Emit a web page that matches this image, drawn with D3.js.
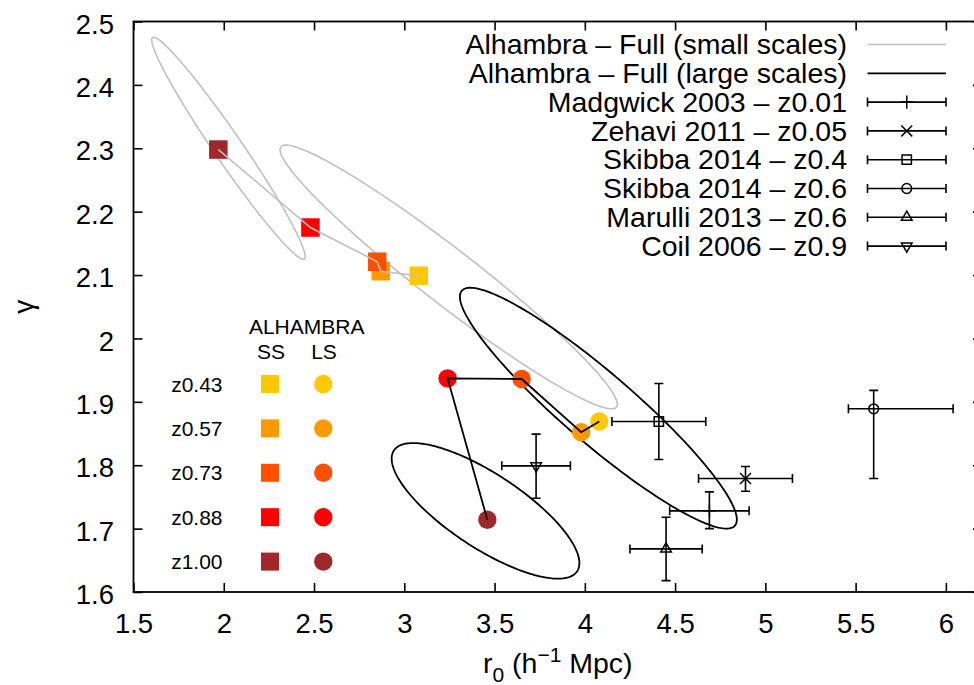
<!DOCTYPE html>
<html>
<head>
<meta charset="utf-8">
<script src="https://cdn.jsdelivr.net/npm/d3@7"></script>
<style>
  body { margin: 0; background: #fff; }
  svg text { font-family: "Liberation Sans", Arial, Helvetica, sans-serif; fill: #000; }
</style>
</head>
<body>
<svg id="chart" width="974" height="685"></svg>
<script>
// ALHAMBRA redshift bins
const zLabels = ["z0.43", "z0.57", "z0.73", "z0.88", "z1.00"];
// small scales (squares)
const ssR0 = [3.08, 2.87, 2.85, 2.48, 1.97];
const ssGamma = [2.099, 2.106, 2.121, 2.175, 2.298];
// large scales (circles)
const lsR0 = [4.08, 3.98, 3.65, 3.24, 3.46];
const lsGamma = [1.869, 1.852, 1.936, 1.937, 1.714];

// confidence contours: centre, half extent in r0 and gamma, correlation
const ssEllR0 = [2.026, 3.246];
const ssEllGamma = [2.300, 2.097];
const ssEllDR0 = [0.425, 0.934];
const ssEllDGamma = [0.175, 0.208];
const ssEllRho = [-0.975, -0.965];
const lsEllR0 = [4.075, 3.450];
const lsEllGamma = [1.890, 1.728];
const lsEllDR0 = [0.767, 0.520];
const lsEllDGamma = [0.190, 0.107];
const lsEllRho = [-0.925, -0.77];

// literature measurements
const refNames = ["Madgwick 2003 \u2013 z0.01", "Zehavi 2011 \u2013 z0.05", "Skibba 2014 \u2013 z0.4",
  "Skibba 2014 \u2013 z0.6", "Marulli 2013 \u2013 z0.6", "Coil 2006 \u2013 z0.9"];
const refR0 = [4.69, 4.89, 4.41, 5.60, 4.45, 3.73];
const refR0Lo = [4.47, 4.63, 4.15, 5.46, 4.25, 3.54];
const refR0Hi = [4.91, 5.15, 4.67, 6.04, 4.65, 3.92];
const refGamma = [1.728, 1.779, 1.869, 1.889, 1.668, 1.799];
const refGammaLo = [1.700, 1.759, 1.809, 1.779, 1.618, 1.748];
const refGammaHi = [1.758, 1.798, 1.929, 1.918, 1.718, 1.849];

const xTicks = [1.5, 2, 2.5, 3, 3.5, 4, 4.5, 5, 5.5, 6];
const yTicks = [1.6, 1.7, 1.8, 1.9, 2.0, 2.1, 2.2, 2.3, 2.4, 2.5];

const svg = d3.select("#chart");
const margin = { top: 21.5, left: 133.5 },
  plotW = 848.5,
  plotH = 570.5;

const x = d3.scaleLinear().domain([1.5, 6.2]).range([margin.left, margin.left + plotW]);
const y = d3.scaleLinear().domain([1.6, 2.5]).range([margin.top + plotH, margin.top]);
const zColor = d3.scaleOrdinal().domain(zLabels)
  .range(["#ffc800", "#ff9900", "#ff5000", "#ff0000", "#a0282a"]);

const tickFmt = d3.format("~g");
const TICK = 9;

// axes (ticks pointing inward)
function styleAxis(g) {
  g.select(".domain").remove();
  g.selectAll(".tick line").attr("stroke", "#000").attr("stroke-width", 1.6);
  g.selectAll(".tick text").attr("font-size", 27.5).attr("font-family", null);
}
svg.append("g").attr("transform", `translate(0,${y(1.6)})`)
  .call(d3.axisBottom(x).tickValues(xTicks).tickFormat(tickFmt).tickSize(-TICK).tickPadding(21))
  .call(styleAxis);
svg.append("g").attr("transform", `translate(0,${y(2.5)})`)
  .call(d3.axisTop(x).tickValues(xTicks).tickFormat("").tickSize(-TICK))
  .call(styleAxis);
svg.append("g").attr("transform", `translate(${x(1.5)},0)`)
  .call(d3.axisLeft(y).tickValues(yTicks).tickFormat(tickFmt).tickSize(-TICK).tickPadding(19.5))
  .call(styleAxis)
  .selectAll(".tick text").attr("dy", "0.42em");
svg.append("g").attr("transform", `translate(${x(6.2)},0)`)
  .call(d3.axisRight(y).tickValues(yTicks).tickFormat("").tickSize(-TICK))
  .call(styleAxis);

// frame
svg.append("rect")
  .attr("x", x(1.5)).attr("y", y(2.5))
  .attr("width", x(6.2) - x(1.5)).attr("height", y(1.6) - y(2.5))
  .attr("fill", "none").attr("stroke", "#000").attr("stroke-width", 1.8);

// axis titles
const xl = svg.append("text").attr("x", (x(1.5) + x(6.2)) / 2).attr("y", 673)
  .attr("text-anchor", "middle").attr("font-size", 28.5);
xl.append("tspan").text("r");
xl.append("tspan").attr("font-size", 21).attr("dy", 9).text("0");
xl.append("tspan").attr("dy", -9).text(" (h");
xl.append("tspan").attr("font-size", 21).attr("dy", -11).text("\u22121");
xl.append("tspan").attr("dy", 11).text(" Mpc)");

svg.append("text")
  .attr("transform", `translate(25,${(y(1.6) + y(2.5)) / 2}) rotate(-90)`)
  .attr("text-anchor", "middle").attr("dy", "0.3em")
  .attr("font-size", 28).text("\u03b3");

// contours
function ellipsePts(cx, cy, ax, by, rho) {
  const s = Math.sqrt(1 - rho * rho);
  return d3.range(0, 360, 1.5).map((deg) => {
    const t = (deg * Math.PI) / 180;
    return [cx + ax * Math.cos(t), cy + by * (rho * Math.cos(t) + s * Math.sin(t))];
  });
}
const ellLine = d3.line().x((d) => x(d[0])).y((d) => y(d[1])).curve(d3.curveLinearClosed);

const plot = svg.append("g");
ssEllR0.forEach((c, i) => {
  plot.append("path")
    .attr("d", ellLine(ellipsePts(c, ssEllGamma[i], ssEllDR0[i], ssEllDGamma[i], ssEllRho[i])))
    .attr("fill", "none").attr("stroke", "#c0c0c0").attr("stroke-width", 1.6);
});
lsEllR0.forEach((c, i) => {
  plot.append("path")
    .attr("d", ellLine(ellipsePts(c, lsEllGamma[i], lsEllDR0[i], lsEllDGamma[i], lsEllRho[i])))
    .attr("fill", "none").attr("stroke", "#000").attr("stroke-width", 1.8);
});

// ALHAMBRA points
const SQ = 18.5, RAD = 9.2;
plot.selectAll("rect.ss").data(zLabels).join("rect").attr("class", "ss")
  .attr("x", (d, i) => x(ssR0[i]) - SQ / 2).attr("y", (d, i) => y(ssGamma[i]) - SQ / 2)
  .attr("width", SQ).attr("height", SQ).attr("fill", (d) => zColor(d));
plot.selectAll("circle.ls").data(zLabels).join("circle").attr("class", "ls")
  .attr("cx", (d, i) => x(lsR0[i])).attr("cy", (d, i) => y(lsGamma[i]))
  .attr("r", RAD).attr("fill", (d) => zColor(d));

// connecting lines, z1.00 -> z0.43
const order = d3.range(zLabels.length).reverse();
plot.append("path")
  .attr("d", d3.line().x((i) => x(ssR0[i])).y((i) => y(ssGamma[i]))(order))
  .attr("fill", "none").attr("stroke", "#c0c0c0").attr("stroke-width", 1.6);
plot.append("path")
  .attr("d", d3.line().x((i) => x(lsR0[i])).y((i) => y(lsGamma[i]))(order))
  .attr("fill", "none").attr("stroke", "#000").attr("stroke-width", 1.8);

// literature error bars
const refSymbols = [d3.symbolPlus, d3.symbolTimes, d3.symbolSquare2, d3.symbolCircle, d3.symbolTriangle2, d3.symbolTriangle2];
const refSizes = [60, 80, 110, 75, 80, 80];
const refRot = [0, 0, 0, 0, 0, 180];
const CAP = 4.5;

function errorBar(g, cx, cy, x0, x1, y0, y1) {
  const p = d3.path();
  p.moveTo(x0, cy); p.lineTo(x1, cy);
  p.moveTo(x0, cy - CAP); p.lineTo(x0, cy + CAP);
  p.moveTo(x1, cy - CAP); p.lineTo(x1, cy + CAP);
  if (y0 !== null) {
    p.moveTo(cx, y0); p.lineTo(cx, y1);
    p.moveTo(cx - CAP, y0); p.lineTo(cx + CAP, y0);
    p.moveTo(cx - CAP, y1); p.lineTo(cx + CAP, y1);
  }
  g.append("path").attr("d", p.toString())
    .attr("fill", "none").attr("stroke", "#000").attr("stroke-width", 1.6);
}
function marker(g, i, cx, cy) {
  g.append("path")
    .attr("d", d3.symbol().type(refSymbols[i]).size(refSizes[i])())
    .attr("transform", `translate(${cx},${cy}) rotate(${refRot[i]})`)
    .attr("fill", "none").attr("stroke", "#000").attr("stroke-width", 1.5);
}

refNames.forEach((name, i) => {
  const cx = x(refR0[i]), cy = y(refGamma[i]);
  errorBar(plot, cx, cy, x(refR0Lo[i]), x(refR0Hi[i]), y(refGammaLo[i]), y(refGammaHi[i]));
  marker(plot, i, cx, cy);
});

// main key (top right); glyphs slightly stretched sideways, rows stay tight
const keyY0 = 44.5, keyDy = 28.8, keyTextX = 847, keyL = 867.5, keyR = 946;
const key = svg.append("g");
const keyNames = ["Alhambra \u2013 Full (small scales)", "Alhambra \u2013 Full (large scales)"].concat(refNames);
key.append("g").attr("transform", `translate(${keyTextX},0) scale(1.055,1)`)
  .selectAll("text").data(keyNames).join("text")
  .attr("x", 0).attr("y", (d, i) => keyY0 + i * keyDy)
  .attr("dy", "0.36em").attr("text-anchor", "end").attr("font-size", 27)
  .text((d) => d);
key.append("line").attr("x1", keyL).attr("x2", keyR).attr("y1", keyY0).attr("y2", keyY0)
  .attr("stroke", "#c0c0c0").attr("stroke-width", 1.6);
key.append("line").attr("x1", keyL).attr("x2", keyR).attr("y1", keyY0 + keyDy).attr("y2", keyY0 + keyDy)
  .attr("stroke", "#000").attr("stroke-width", 1.8);
refNames.forEach((name, i) => {
  const cy = keyY0 + (i + 2) * keyDy, cx = (keyL + keyR) / 2;
  errorBar(key, cx, cy, keyL, keyR, null, null);
  marker(key, i, cx, cy);
});

// redshift key inside the plot
const zKey = svg.append("g");
zKey.append("text").attr("x", 306.7).attr("y", 326).attr("dy", "0.36em")
  .attr("text-anchor", "middle").attr("font-size", 21).text("ALHAMBRA");
zKey.append("text").attr("x", 271).attr("y", 351.7).attr("dy", "0.36em")
  .attr("text-anchor", "middle").attr("font-size", 21).text("SS");
zKey.append("text").attr("x", 324).attr("y", 351.7).attr("dy", "0.36em")
  .attr("text-anchor", "middle").attr("font-size", 21).text("LS");
const zRow = (i) => 384 + i * 44.4;
zKey.selectAll("text.zl").data(zLabels).join("text").attr("class", "zl")
  .attr("x", 222.5).attr("y", (d, i) => zRow(i)).attr("dy", "0.36em")
  .attr("text-anchor", "end").attr("font-size", 21).text((d) => d);
zKey.selectAll("rect").data(zLabels).join("rect")
  .attr("x", 270 - 9).attr("y", (d, i) => zRow(i) - 9).attr("width", 18).attr("height", 18)
  .attr("fill", (d) => zColor(d));
zKey.selectAll("circle").data(zLabels).join("circle")
  .attr("cx", 323.3).attr("cy", (d, i) => zRow(i)).attr("r", 9.2)
  .attr("fill", (d) => zColor(d));
</script>
</body>
</html>
